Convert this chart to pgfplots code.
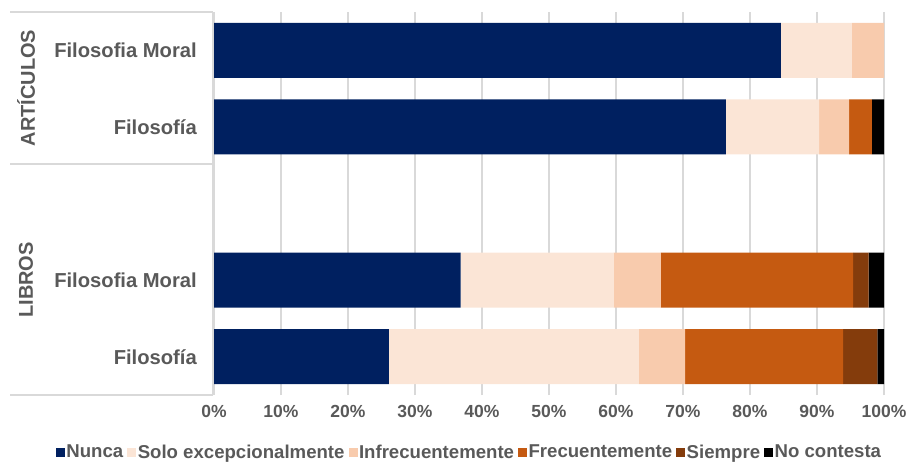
\documentclass[border=0pt]{standalone}
\usepackage{fontspec}
\setmainfont{Liberation Sans}
\usepackage{pgfplots}
\pgfplotsset{compat=1.18}
\definecolor{cNunca}{HTML}{002060}
\definecolor{cSolo}{HTML}{FBE5D6}
\definecolor{cInf}{HTML}{F8CBAD}
\definecolor{cFrec}{HTML}{C55A11}
\definecolor{cSiem}{HTML}{843C0C}
\definecolor{cNC}{HTML}{000000}
\definecolor{txt}{HTML}{595959}
\definecolor{gridgray}{HTML}{D9D9D9}
\begin{document}
\begin{tikzpicture}
\path[use as bounding box] (0,0) rectangle (907pt,461pt);
\begin{axis}[
  at={(214pt,66pt)}, anchor=south west,
  scale only axis, width=670pt, height=383pt,
  xbar stacked, bar width=55pt,
  xmin=0, xmax=100, ymin=-0.5, ymax=4.5,
  xtick={0,10,...,100},
  xticklabels={0\%,10\%,20\%,30\%,40\%,50\%,60\%,70\%,80\%,90\%,100\%},
  ytick={0,1,3,4},
  yticklabels={Filosofía,Filosofia Moral,Filosofía,Filosofia Moral},
  major tick length=0pt,
  axis line style={draw=none},
  xmajorgrids, grid style={draw=gridgray, line width=1.5pt},
  xticklabel style={font=\fontsize{17.5}{20}\selectfont\bfseries, text=txt, inner sep=0pt, anchor=north, yshift=-10pt},
  yticklabel style={font=\fontsize{20.2}{22}\selectfont\bfseries, text=txt, inner sep=0pt, anchor=east, xshift=-17pt},
  legend style={at={(axis description cs:0.381,-0.149)}, anchor=center, draw=none, fill=none,
    legend columns=-1, font=\fontsize{18.6}{20}\selectfont\bfseries, text=txt,
    /tikz/every even column/.append style={column sep=2.5pt},
    nodes={inner sep=1.5pt}},
  legend image code/.code={\fill[#1] (0pt,-4.5pt) rectangle (9pt,4.5pt);},
]
\addplot[draw=none, fill=cNunca] coordinates {(84.6,4) (76.4,3) (36.8,1) (26.1,0)};
\addplot[draw=none, fill=cSolo] coordinates {(10.6,4) (13.9,3) (22.9,1) (37.3,0)};
\addplot[draw=none, fill=cInf] coordinates {(4.8,4) (4.5,3) (7.0,1) (6.9,0)};
\addplot[draw=none, fill=cFrec] coordinates {(0,4) (3.4,3) (28.7,1) (23.6,0)};
\addplot[draw=none, fill=cSiem] coordinates {(0,4) (0,3) (2.3,1) (5.1,0)};
\addplot[draw=none, fill=cNC] coordinates {(0,4) (1.8,3) (2.3,1) (1.0,0)};
\legend{Nunca,Solo excepcionalmente,Infrecuentemente,Frecuentemente,Siempre,No contesta}
\end{axis}
\draw[gridgray, line width=1.2pt] (10pt,449pt) -- (213pt,449pt);
\draw[gridgray, line width=1.2pt] (10pt,297pt) -- (213pt,297pt);
\draw[gridgray, line width=1.2pt] (10pt,66pt) -- (213pt,66pt);
\draw[gridgray, line width=1.2pt] (213pt,66pt) -- (213pt,449pt);
\node[rotate=90, text=txt, font=\fontsize{20}{22}\selectfont\bfseries] at (26pt,373pt) {ARTÍCULOS};
\node[rotate=90, text=txt, font=\fontsize{20}{22}\selectfont\bfseries] at (26pt,181pt) {LIBROS};
\end{tikzpicture}
\end{document}
